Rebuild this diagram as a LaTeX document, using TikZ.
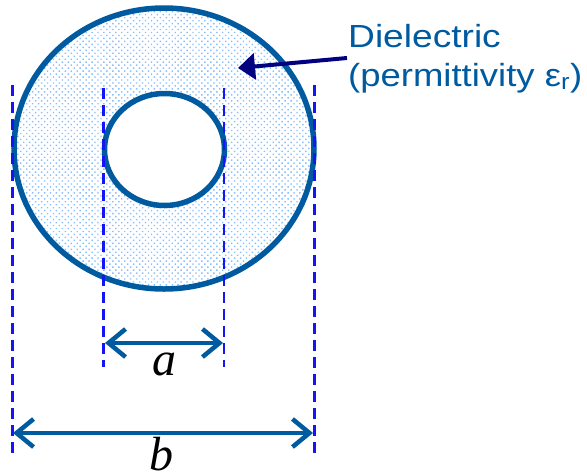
\documentclass[tikz,border=0pt]{standalone}
\usepackage{fontspec}
\setmainfont{Liberation Sans}
\newfontfamily\serifit{Liberation Serif}
\usetikzlibrary{arrows.meta,patterns.meta}
\definecolor{cline}{RGB}{0,90,160}
\definecolor{dotc}{RGB}{135,190,255}
\definecolor{dashc}{RGB}{20,20,245}
\definecolor{navyc}{RGB}{0,0,128}
\begin{document}
\begin{tikzpicture}[x=1pt,y=-1pt,
  ring/.style={draw=cline, line width=5.5pt},
  guide/.style={draw=dashc, line width=2.8pt, dash pattern=on 11pt off 6pt},
  dimarrow/.style={draw=cline, line width=4.5pt, {Straight Barb[length=17pt,width=28pt]}-{Straight Barb[length=17pt,width=28pt]}},
  pointer/.style={draw=navyc, line width=4pt, -{Triangle[length=17pt,width=26pt]}},
  lbl/.style={text=cline, font=\fontsize{32}{38}\selectfont, anchor=base west, inner sep=0pt},
  dimlbl/.style={font=\serifit\itshape\fontsize{48}{48}\selectfont, anchor=base, inner sep=0pt}]
\useasboundingbox (0,0) rectangle (587,475);
\coordinate (oc) at (164,148.5);
\coordinate (ic) at (164.5,149.5);
\fill[pattern={Dots[radius=1pt,distance=4.2pt,angle=45]}, pattern color=dotc, even odd rule]
  (oc) ellipse [x radius=150, y radius=140.5] (ic) ellipse [x radius=60, y radius=56];
\draw[ring] (oc) ellipse [x radius=150, y radius=140.5];
\draw[ring] (ic) ellipse [x radius=60, y radius=56];
% guides
\coordinate (g1t) at (12.5,85);  \coordinate (g1b) at (12.5,456);
\coordinate (g4t) at (314.5,85); \coordinate (g4b) at (314.5,456);
\coordinate (g2t) at (103.5,88); \coordinate (g2b) at (103.5,367);
\coordinate (g3t) at (224,88);   \coordinate (g3b) at (224,367);
\draw[guide] (g1t) -- (g1b);
\draw[guide] (g4t) -- (g4b);
\draw[guide] (g2t) -- (g2b);
\draw[guide] (g3t) -- (g3b);
% dimension arrows
\coordinate (a1) at (105,343); \coordinate (a2) at (223,343);
\coordinate (b1) at (13,433);  \coordinate (b2) at (313,433);
\draw[dimarrow] (a1) -- (a2);
\draw[dimarrow] (b1) -- (b2);
\node[dimlbl] (la) at (164,375) {a};
\node[dimlbl] (lb) at (161,470) {b};
% text
\node[lbl] (t1) at (348,47) {\scalebox{1.16}[1]{Dielectric}};
\node[lbl] (t2) at (348,86) {\scalebox{1.14}[1]{(permittivity ε\textsubscript{r})}};
\coordinate (ps) at (347,58); \coordinate (pe) at (238,68);
\draw[pointer] (ps) -- (pe);
\end{tikzpicture}
\end{document}
